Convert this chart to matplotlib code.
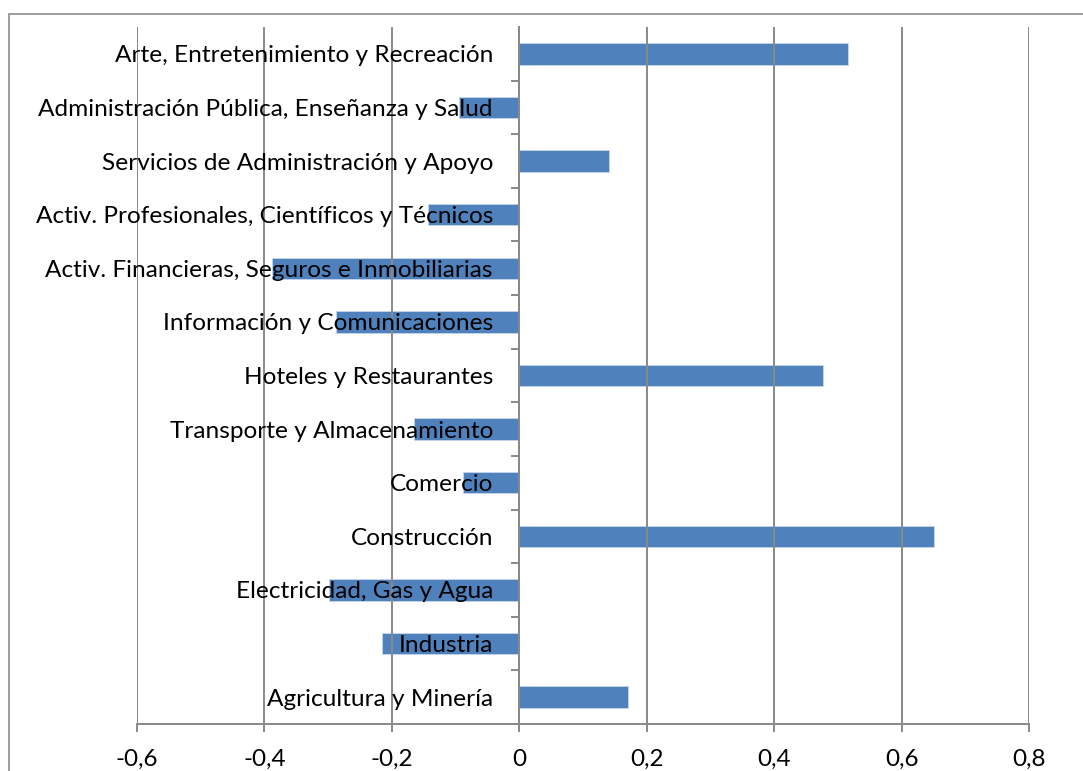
import matplotlib
matplotlib.use("Agg")
import matplotlib.pyplot as plt
from matplotlib.patches import Rectangle
from matplotlib.ticker import FixedLocator, FuncFormatter

categories = [
    "Agricultura y Minería",
    "Industria",
    "Electricidad, Gas y Agua",
    "Construcción",
    "Comercio",
    "Transporte y Almacenamiento",
    "Hoteles y Restaurantes",
    "Información y Comunicaciones",
    "Activ. Financieras, Seguros e Inmobiliarias",
    "Activ. Profesionales, Científicos y Técnicos",
    "Servicios de Administración y Apoyo",
    "Administración Pública, Enseñanza y Salud",
    "Arte, Entretenimiento y Recreación",
]
values = [0.171, -0.215, -0.298, 0.651, -0.089, -0.165, 0.476, -0.287,
          -0.388, -0.143, 0.141, -0.094, 0.516]
x_ticks = [-0.6, -0.4, -0.2, 0.0, 0.2, 0.4, 0.6, 0.8]

plt.rcParams['font.family'] = ['Lato', 'DejaVu Sans']

fig = plt.figure(figsize=(10.83, 7.71), dpi=100)
ax = fig.add_axes([137/1083, 1-724/771, (1029-137)/1083, (724-27)/771])

grid_c = '#898989'
ypos = list(range(len(categories)))
ax.barh(ypos, values, height=0.4, color='#4F81BD', edgecolor='#C6D6EC',
        linewidth=0.6, zorder=1)

ax.set_xlim(-0.6, 0.8)
ax.set_ylim(-0.5, len(categories) - 0.5)
ax.xaxis.set_major_locator(FixedLocator(x_ticks))
ax.xaxis.set_major_formatter(FuncFormatter(
    lambda v, p: ('%g' % round(v, 1)).replace('.', ',')))
ax.grid(axis='x', color=grid_c, linewidth=1.4, zorder=2)
ax.set_axisbelow(False)

for s in ['top', 'right']:
    ax.spines[s].set_visible(False)
ax.spines['left'].set_position(('data', 0))
ax.spines['left'].set_color(grid_c)
ax.spines['left'].set_linewidth(1.4)
ax.spines['bottom'].set_color(grid_c)
ax.spines['bottom'].set_linewidth(1.4)

ax.set_yticks(ypos)
ax.set_yticklabels(categories)
ax.set_yticks([i + 0.5 for i in range(len(categories) - 1)] + [-0.5], minor=True)
ax.tick_params(axis='y', which='major', length=0, pad=19, labelsize=17.6)
ax.tick_params(axis='y', which='minor', length=5.5, width=1.4, color=grid_c)
ax.tick_params(axis='x', which='major', length=6, width=1.4, color=grid_c,
               pad=12, labelsize=17.5)
for lab in ax.get_yticklabels():
    lab.set_zorder(5)

fig.patches.append(Rectangle((9/1083, -0.1), 1.2, 1 - 14/771 + 0.1,
                             transform=fig.transFigure, fill=False,
                             edgecolor='#8c8c8c', linewidth=1.2))

fig.savefig('out.png', dpi=100)
